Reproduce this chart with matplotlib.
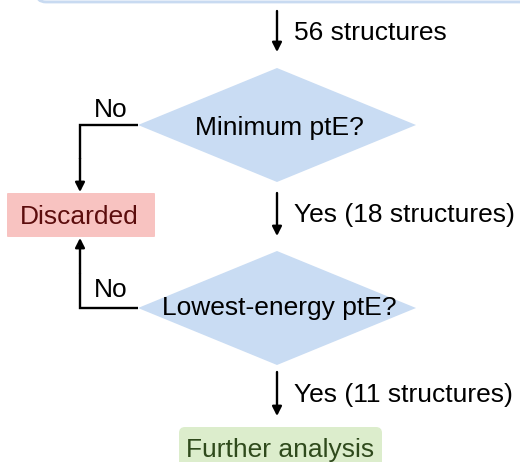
import matplotlib.pyplot as plt
from matplotlib.patches import Polygon, FancyBboxPatch

plt.rcParams['font.family'] = ['Liberation Sans', 'DejaVu Sans']

# flow text
flow_counts = ["56 structures", "Yes (18 structures)", "Yes (11 structures)"]
questions = ["Minimum ptE?", "Lowest-energy ptE?"]
reject_label = "No"
discard_text = "Discarded"
final_text = "Further analysis"

fig = plt.figure(figsize=(5.2, 4.62), dpi=100)
ax = fig.add_axes([0, 0, 1, 1])
ax.set_xlim(0, 520)
ax.set_ylim(462, 0)
ax.axis("off")

fs = 19
cx = 277
arrow_kw = dict(arrowstyle="-|>,head_length=0.55,head_width=0.28", color="black", lw=1.7,
                shrinkA=0, shrinkB=0)

# box cut off at the top
ax.add_patch(FancyBboxPatch((36, -40), 500, 42, boxstyle="round,pad=0,rounding_size=10",
                            fc="#f5f8fd", ec="#c8daf1", lw=2))

# vertical arrows with their counts
arrow_spans = [(11, 52), (193, 236), (372, 416)]
baselines = [40, 222, 402]
for (y0, y1), yb, txt in zip(arrow_spans, baselines, flow_counts):
    ax.annotate("", xy=(cx, y1), xytext=(cx, y0), arrowprops=arrow_kw)
    ax.text(cx + 17, yb, txt, fontsize=fs, va="baseline", ha="left")

# decision diamonds
diamond_y = [125, 308]
text_base = [135, 315]
half_w, half_h = 139, 57
for y, yb, q in zip(diamond_y, text_base, questions):
    ax.add_patch(Polygon([(cx - half_w, y), (cx, y - half_h), (cx + half_w, y), (cx, y + half_h)],
                         closed=True, fc="#c9dcf3", ec="none"))
    ax.text(cx + 2, yb, q, fontsize=fs, ha="center", va="baseline")

# discarded box
ax.add_patch(FancyBboxPatch((7, 193), 148, 44, boxstyle="round,pad=0,rounding_size=1",
                            fc="#f8c3c1", ec="none"))
ax.text(79, 224, discard_text, fontsize=fs, ha="center", va="baseline", color="#5c0d0d")

# "No" branches
lx = 80
for y, y_end, yb in zip(diamond_y, [192, 238], [117, 297]):
    ax.plot([cx - half_w, lx, lx], [y, y, (y + y_end) / 2], color="black", lw=1.7,
            solid_capstyle="butt", solid_joinstyle="miter")
    ax.annotate("", xy=(lx, y_end), xytext=(lx, (y + y_end) / 2), arrowprops=arrow_kw)
    ax.text(111, yb, reject_label, fontsize=fs, ha="center", va="baseline")

# final box
ax.add_patch(FancyBboxPatch((179, 427), 203, 60, boxstyle="round,pad=0,rounding_size=6",
                            fc="#dcedcc", ec="none"))
ax.text(280, 457, final_text, fontsize=fs, ha="center", va="baseline", color="#2f4a1c")

fig.savefig("out.png", dpi=100)
